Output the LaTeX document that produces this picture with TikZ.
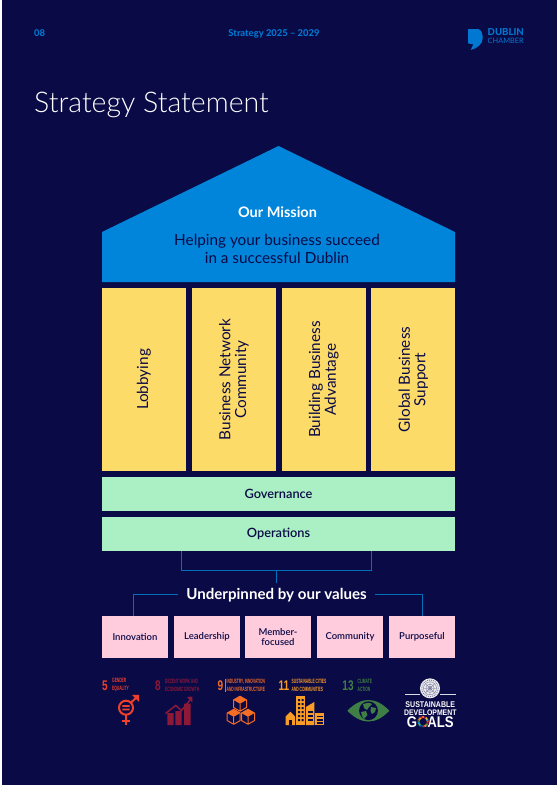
\documentclass[tikz,border=0pt]{standalone}
\usepackage{fontspec}
\setmainfont{Lato}
\newfontfamily\lightf{Lato Light}
\newfontfamily\semif{Lato Semibold}
\newfontfamily\heavyf{Lato Heavy}
\newfontfamily\condf[FakeStretch=0.53]{Liberation Sans}
\newfontfamily\numf[FakeStretch=0.72]{Liberation Sans}
\newfontfamily\goalf[FakeStretch=0.85]{Liberation Sans}
\definecolor{navy}{HTML}{0A0A46}
\definecolor{skyb}{HTML}{0085DA}
\definecolor{headb}{HTML}{0078D2}
\definecolor{linkb}{HTML}{0070BB}
\definecolor{pillarc}{HTML}{FDDB68}
\definecolor{mintc}{HTML}{ABF0C4}
\definecolor{pinkc}{HTML}{FFCCDD}
\definecolor{sdgred}{HTML}{EF402B}
\definecolor{sdgmar}{HTML}{8E1838}
\definecolor{sdgora}{HTML}{F36D25}
\definecolor{sdgamb}{HTML}{F99D26}
\definecolor{sdggrn}{HTML}{3F7E44}
\newcommand{\fs}[2]{\fontsize{#1}{#2}\selectfont}
\tikzset{
 pillar/.style={fill=pillarc,draw=none,rotate=90,minimum width=183pt,minimum height=84pt,inner sep=0pt,align=center,text=navy,font=\fs{15.3}{15.7}},
 band/.style={fill=mintc,draw=none,minimum width=353pt,minimum height=34pt,inner sep=0pt,text=navy,font=\semif\fs{12.8}{14}},
 valuebox/.style={fill=pinkc,draw=none,minimum width=66pt,minimum height=42pt,inner sep=0pt,align=center,text=navy,font=\semif\fs{9.5}{10}},
 link/.style={draw=linkb,line width=0.8pt},
 header/.style={text=headb,font=\heavyf\fs{9.4}{10},inner sep=0pt},
 sdgnum/.style={inner sep=0pt,font=\numf\bfseries\fs{14}{14}},
 sdgtext/.style={inner sep=0pt,anchor=west,align=left,font=\condf\bfseries\fs{6.2}{8}},
 isocube/.pic={
  \fill[sdgora] (0,-7.5) -- (6.5,-3.75) -- (0,0) -- (-6.5,-3.75) -- cycle;
  \draw[sdgora,line width=1pt,line join=round] (0,-7.5) -- (6.5,-3.75) -- (6.5,3.75) -- (0,7.5) -- (-6.5,3.75) -- (-6.5,-3.75) -- cycle (0,0) -- (0,7.5);
 }
}
\begin{document}
\begin{tikzpicture}[x=1pt,y=-1pt]
\useasboundingbox (0,0) rectangle (560,788);
\fill[white] (0,0) rectangle (560,788);
\fill[navy] (2,0) rectangle (557,785);

% header
\node[header,anchor=west] (pageno) at (34,33.5) {08};
\node[header] (runhead) at (274,33.5) {Strategy 2025 – 2029};
\fill[headb] (468,29) -- (478.3,29) .. controls (481.5,30) and (482.7,34) .. (482.7,38.3) .. controls (482.7,44) and (477,48.5) .. (470.7,50) -- (473.3,44.3) .. controls (471,44) and (469,43.8) .. (468,43.3) -- cycle;
\node[inner sep=0pt,anchor=west,text=headb,font=\heavyf\fs{9.6}{10}] (logoa) at (487.5,32.5) {DUBLIN};
\node[inner sep=0pt,anchor=west,text=headb,font=\fs{7.4}{8}] (logob) at (487.5,40.8) {CHAMBER};

% title
\node[inner sep=0pt,anchor=west,text=white,font=\lightf\fs{28.5}{32}] (title) at (34,105) {Strategy Statement};

% house
\fill[skyb] (102,282) -- (102,232) -- (278.5,146) -- (455,232) -- (455,282) -- cycle;
\node[inner sep=0pt,text=white,font=\bfseries\fs{14.5}{16}] (mission) at (277.5,212.5) {Our Mission};
\node[inner sep=0pt,align=center,text=navy,font=\fs{15.3}{18}] (missiontext) at (277,249) {Helping your business succeed\\in a successful Dublin};

% pillars
\node[pillar] (lobby) at (144,379.5) {Lobbying};
\node[pillar] (network) at (234,379.5) {Business Network\\Community};
\node[pillar] (advantage) at (323.7,379.5) {Building Business\\Advantage};
\node[pillar] (support) at (413.3,379.5) {Global Business\\Support};

% bands
\node[band] (gov) at (278.5,494) {Governance};
\node[band] (ops) at (278.5,534) {Operations};

% values
\node[inner sep=8pt,text=white,font=\bfseries\fs{15.1}{16}] (values) at (276.5,595) {Underpinned by our values};
\node[valuebox] (innov) at (135,637) {Innovation};
\node[valuebox] (lead) at (207,637) {Leadership};
\node[valuebox] (member) at (278,637) {Member-\\focused};
\node[valuebox] (commun) at (350,637) {Community};
\node[valuebox] (purpose) at (422,637) {Purposeful};

% connectors
\coordinate (opsl) at (181.5,551);
\coordinate (opsr) at (371.5,551);
\coordinate (bracketl) at (181.5,570.5);
\coordinate (bracketr) at (371.5,570.5);
\coordinate (stemtop) at (276.5,570.5);
\coordinate (stemend) at (276.5,582.5);
\coordinate (innovtop) at (133.5,616);
\coordinate (purptop) at (422.5,616);
\draw[link] (opsl) -- (bracketl) -- (bracketr) -- (opsr);
\draw[link] (stemtop) -- (stemend);
\draw[link] (values.west |- 0,594.5) -| (innovtop);
\draw[link] (values.east |- 0,594.5) -| (purptop);

% SDG 5
\node[sdgnum,text=sdgred] (n5) at (105,685.5) {5};
\node[sdgtext,text=sdgred] (t5) at (112,685) {GENDER\\EQUALITY};
\draw[sdgred,line width=2pt] (126,707.7) circle (7);
\draw[sdgred,line width=2pt] (126,714.5) -- (126,724.5) (121.7,720.8) -- (130.3,720.8);
\draw[sdgred,line width=2pt] (130.5,703) -- (137.5,696.5);
\fill[sdgred] (132,694.8) -- (139,694.8) -- (139,701.8) -- cycle;
\fill[sdgred] (122.3,705) rectangle (129.7,706.9) (122.3,708.5) rectangle (129.7,710.4);

% SDG 8
\node[sdgnum,text=sdgmar] (n8) at (158,685.5) {8};
\node[sdgtext,text=sdgmar] (t8) at (165,685) {DECENT WORK AND\\ECONOMIC GROWTH};
\fill[sdgmar] (167.3,713) rectangle (173.5,725) (175.4,711) rectangle (181.6,725) (184,703.5) rectangle (190.7,725);
\draw[sdgmar,line width=1.5pt] (165.5,713.5) -- (175.7,705.5) -- (181.5,710.5) -- (190.5,699.5);
\fill[sdgmar] (187,697) -- (192.3,696.5) -- (192.3,702.5) -- cycle;

% SDG 9
\node[sdgnum,text=sdgora] (n9) at (220.5,685.5) {9};
\fill[sdgora] (225.2,679) rectangle (225.7,692);
\node[sdgtext,text=sdgora] (t9) at (226.5,685) {INDUSTRY, INNOVATION\\AND INFRASTRUCTURE};
\pic at (240,703.7) {isocube};
\pic at (233.7,716.8) {isocube};
\pic at (248,716.8) {isocube};

% SDG 11
\node[sdgnum,text=sdgamb] (n11) at (284,685.5) {11};
\node[sdgtext,text=sdgamb] (t11) at (291.5,685) {SUSTAINABLE CITIES\\AND COMMUNITIES};
\fill[sdgamb] (285.7,725) -- (285.7,716.5) -- (290.3,711.7) -- (295,716.5) -- (295,725) -- cycle;
\fill[navy] (288.7,720) rectangle (292,725);
\fill[sdgamb] (296,696) rectangle (305,725);
\foreach \wy in {699,703,707,711,715,719}{\fill[navy] (298,\wy) rectangle (300,\wy+2) (301.5,\wy) rectangle (303.5,\wy+2);}
\fill[sdgamb] (305.8,725) -- (305.8,707) -- (314.3,702) -- (314.3,725) -- cycle;
\foreach \wy in {711,715,719}{\fill[navy] (307.5,\wy) rectangle (312.5,\wy+1.7);}
\fill[sdgamb] (315.3,713) rectangle (324,725);
\foreach \wy in {715.5,719,722}{\fill[navy] (316.8,\wy) rectangle (322.5,\wy+1.5);}

% SDG 13
\node[sdgnum,text=sdggrn] (n13) at (348,685.5) {13};
\node[sdgtext,text=sdggrn] (t13) at (357.5,685) {CLIMATE\\ACTION};
\fill[sdggrn] (347.3,710.7) .. controls (355,703) and (362,700) .. (368.3,700) .. controls (375,700) and (382,703) .. (389.3,710.7) .. controls (382,718.5) and (375,721.5) .. (368.3,721.5) .. controls (362,721.5) and (355,718.5) .. (347.3,710.7) -- cycle;
\fill[navy] (368.5,710.7) circle (9.4);
\fill[sdggrn] (363,704) .. controls (366,702.5) and (370,702.5) .. (372,704) -- (369,707) -- (367,710) -- (364,708) -- cycle;
\fill[sdggrn] (361,712) -- (366,711) -- (367.5,715) -- (364,719) -- (362,716) -- cycle;
\fill[sdggrn] (371,707) -- (376,708) -- (375,712) -- (372,714) -- (370.5,711) -- cycle;

% UN emblem and goals
\fill[white!92!navy] (430,688.3) circle (10);
\draw[navy!55!white,line width=.9pt,dash pattern=on .9pt off 1.1pt] (430,688.3) circle (8.3);
\draw[navy!60!white,line width=.35pt] (430,688.3) circle (6.5) circle (4.2) circle (2);
\draw[navy!60!white,line width=.35pt] (423.5,688.3) -- (436.5,688.3) (430,681.8) -- (430,694.8) (425.4,683.7) -- (434.6,692.9) (425.4,692.9) -- (434.6,683.7);
\draw[white!85!navy,line width=.8pt] (405,694) -- (420,694) (440,694) -- (455.7,694);
\node[inner sep=0pt,text=white,font=\goalf\bfseries\fs{8.3}{8}] (sust) at (430.3,705) {SUSTAINABLE};
\node[inner sep=0pt,text=white,font=\goalf\bfseries\fs{8.1}{8}] (devel) at (430.3,712.3) {DEVELOPMENT};
\node[inner sep=0pt,text=white,font=\goalf\bfseries\fs{15.5}{15.5}] (goals) at (430.3,721.8) {GOALS};
\fill[navy] (423.2,721.8) circle (6.2);
\foreach \c [count=\i from 0] in {E5243B,DDA63A,4C9F38,C5192D,FF3A21,26BDE2,FCC30B,A21942,FD6925,DD1367,FD9D24,BF8B2E,3F7E44,0A97D9,56C02B,00689D,19486A}{
 \definecolor{ringc}{HTML}{\c}
 \draw[ringc,line width=2pt] (423.2,721.8) ++({90-\i*360/17}:4.6) arc[start angle={90-\i*360/17},end angle={90-(\i+1)*360/17},radius=4.6];
}
\end{tikzpicture}
\end{document}
